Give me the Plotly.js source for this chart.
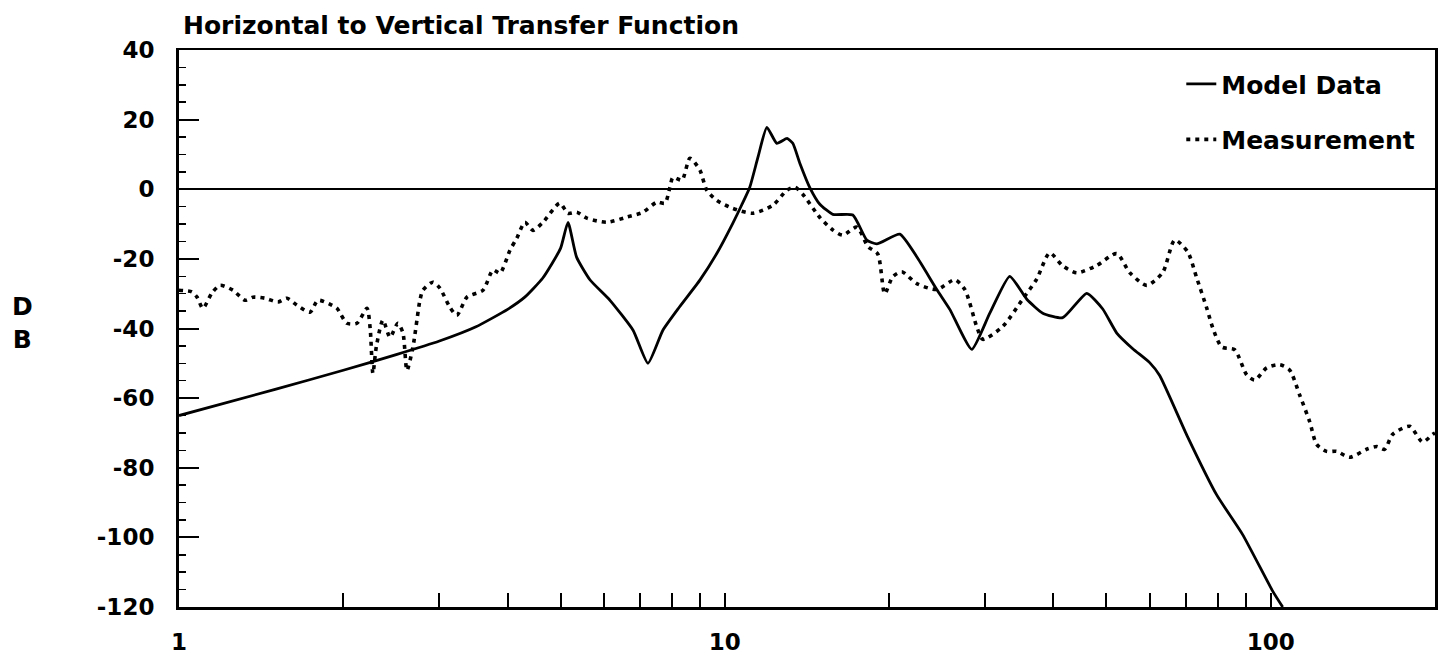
<!DOCTYPE html>
<html>
<head>
<meta charset="utf-8">
<script src="https://cdn.plot.ly/plotly-3.0.1.min.js"></script>
<style>
  html, body { margin: 0; padding: 0; background: #ffffff; }
  #chart { width: 1441px; height: 665px; }
</style>
</head>
<body>
<div id="chart"></div>
<script>
// ---- Data ----
const modelFreq = [1, 1.5, 2, 2.5, 3, 3.5, 4, 4.3, 4.64, 5.0, 5.16, 5.35, 5.66, 6.16, 6.79, 7.23,
  7.7, 8.25, 9.0, 9.67, 10.34, 10.73, 11.11, 11.5, 11.94, 12.45, 13.0, 13.32, 13.72, 14.31,
  14.93, 15.77, 17.16, 18.2, 18.98, 20.92, 22.47, 24.45, 25.83, 28.34, 30.58, 33.26, 35.74,
  38.23, 41.59, 46.03, 49.24, 52.24, 55.89, 60.02, 62.61, 70.19, 79.63, 88.85, 100.9, 105.2];
const modelDb = [-65, -57.5, -52, -47.5, -43.6, -39.5, -34.5, -31, -25.5, -17, -9.5, -19.5, -26, -31.9, -40.5, -50,
  -40.5, -33.9, -26.1, -18.4, -9.8, -4.6, 0.6, 9.2, 17.8, 13.2, 14.6, 13.2, 7.5, 0.5,
  -4.3, -7.2, -7.4, -14.6, -15.7, -12.9, -19.4, -28.8, -34.5, -46, -35.6, -25, -31.6,
  -35.6, -36.9, -29.9, -34.4, -41.3, -45.8, -49.8, -53.5, -70.6, -87.8, -99.2, -115.5, -120];

const measFreq = [1.0, 1.056, 1.079, 1.106, 1.149, 1.189, 1.256, 1.321, 1.366, 1.437, 1.518, 1.577,
  1.645, 1.738, 1.797, 1.906, 1.947, 2.031, 2.118, 2.21, 2.24, 2.266, 2.3, 2.364, 2.435, 2.518,
  2.572, 2.616, 2.683, 2.763, 2.798, 2.919, 3.006, 3.135, 3.229, 3.37, 3.605, 3.761, 3.873,
  4.04, 4.159, 4.302, 4.45, 4.642, 4.986, 5.158, 5.357, 5.588, 6.08, 6.614, 7.077, 7.508,
  7.767, 7.933, 8.034, 8.344, 8.63, 9.0, 9.268, 9.667, 10.34, 11.25, 12.24, 12.99, 13.43,
  13.9, 14.93, 15.77, 16.45, 17.45, 18.3, 19.06, 19.63, 20.31, 21.1, 22.47, 24.45, 26.38,
  27.52, 28.93, 29.68, 32.3, 35.15, 37.27, 39.37, 41.59, 44.13, 48.0, 52.23, 55.2, 59.3,
  63.42, 66.72, 70.47, 73.2, 76.35, 78.31, 81.33, 85.9, 90.37, 93.48, 98.33, 103.9, 108.3,
  113, 117.9, 121.4, 126.6, 132.1, 139.5, 149.9, 156.4, 161.7, 167.3, 179.7, 189.8, 198.1, 200];
const measDb = [-29, -29.5, -31, -34.2, -29.8, -27.6, -29, -31.9, -31, -31.3, -32.4, -31.3,
  -33.3, -35.3, -31.9, -33.3, -34.2, -38.5, -38.5, -34.2, -40, -52.9, -45, -37.6, -42.5, -38.5,
  -41.3, -52, -45.3, -31.9, -29, -26.7, -28.4, -33.9, -36.2, -31, -29, -23.2, -24.1,
  -17.5, -14, -9.5, -11.8, -9.5, -4, -6.9, -6.6, -8.3, -9.5, -8, -6.6, -3.7,
  -4, 0.6, 3.4, 2.6, 8.9, 5.5, -0.3, -3.2, -5.5, -6.9, -4.6, -0.3, 0.6,
  -1.5, -8.1, -11.7, -13.2, -10.9, -16.5, -18.6, -30, -25.1, -23.7, -27.1, -28.8, -26,
  -28.8, -39.4, -43.1, -39.4, -31.5, -25.8, -18.3, -22, -24, -21.9, -18.5, -24, -27.6,
  -23.9, -14.6, -18, -25.5, -34.1, -39.8, -45.3, -46.1, -53.3, -54.8, -51.3, -50.4, -51.9,
  -59.1, -66.8, -73.3, -75.3, -75.3, -77, -74.7, -73.9, -74.7, -70.4, -68.1, -72.6, -70.4, -70];

const xTickVals = [1, 2, 3, 4, 5, 6, 7, 8, 9, 10, 20, 30, 40, 50, 60, 70, 80, 90, 100, 200];
const xTickText = ['1', '', '', '', '', '', '', '', '', '10', '', '', '', '', '', '', '', '', '100', ''];
const yTickVals = [-120, -100, -80, -60, -40, -20, 0, 20, 40];
const yTickText = ['-120', '-100', '-80', '-60', '-40', '-20', '0', '20', '40'];

const titleText = 'Horizontal to Vertical Transfer Function';
const yLabel = 'D<br>B';
const seriesNames = ['Model Data', 'Measurement'];

// ---- Chart ----
const FONT = 'DejaVu Sans, Liberation Sans, Arial, sans-serif';

const traces = [
  {
    x: modelFreq, y: modelDb, name: seriesNames[0], type: 'scatter', mode: 'lines',
    line: { color: '#000000', width: 2.8, shape: 'spline', smoothing: 0.5 }, legendgroup: 'a'
  },
  {
    x: measFreq, y: measDb, name: seriesNames[1], type: 'scatter', mode: 'lines',
    line: { color: '#000000', width: 3.6, dash: '4px,5px', shape: 'spline', smoothing: 0.7 }, legendgroup: 'b'
  }
];

const layout = {
  width: 1441, height: 665,
  margin: { l: 179, r: 6, t: 50, b: 58, pad: 0 },
  paper_bgcolor: '#ffffff', plot_bgcolor: '#ffffff',
  font: { family: FONT, size: 23, color: '#000000', weight: 'bold' },
  title: {
    text: titleText,
    xref: 'container', yref: 'container',
    x: 183 / 1441, xanchor: 'left',
    y: 1 - 25 / 665, yanchor: 'middle',
    font: { family: FONT, size: 25, color: '#000000', weight: 'bold' }
  },
  showlegend: true,
  legend: {
    x: 0.798, xanchor: 'left', y: 0.98, yanchor: 'top',
    bgcolor: 'rgba(0,0,0,0)', borderwidth: 0,
    traceorder: 'grouped', tracegroupgap: 20,
    font: { family: FONT, size: 25, color: '#000000', weight: 'bold' }
  },
  xaxis: {
    type: 'log', range: [0, Math.log10(200)],
    tickmode: 'array', tickvals: xTickVals, ticktext: xTickText,
    ticks: 'inside', ticklen: 14, tickwidth: 2, tickcolor: '#000000',
    showline: true, linecolor: '#000000', linewidth: 2.5, mirror: true,
    showgrid: false, zeroline: false,
    ticklabelstandoff: 13,
    tickfont: { family: FONT, size: 23, color: '#000000', weight: 'bold' }
  },
  yaxis: {
    range: [-120, 40],
    tickmode: 'array', tickvals: yTickVals, ticktext: yTickText,
    ticks: 'inside', ticklen: 20, tickwidth: 2, tickcolor: '#000000',
    minor: { ticks: 'inside', dtick: 5, ticklen: 7, tickwidth: 1.5, tickcolor: '#000000', showgrid: false },
    showline: true, linecolor: '#000000', linewidth: 3, mirror: true,
    showgrid: false,
    zeroline: true, zerolinecolor: '#000000', zerolinewidth: 2,
    ticklabelstandoff: 17,
    tickfont: { family: FONT, size: 23, color: '#000000', weight: 'bold' }
  },
  annotations: [
    {
      text: yLabel, xref: 'paper', yref: 'paper',
      x: (22 - 179) / 1256, y: (607 - 323) / 557,
      xanchor: 'center', yanchor: 'middle', showarrow: false, align: 'center',
      font: { family: FONT, size: 25, color: '#000000', weight: 'bold' }
    }
  ]
};

Plotly.newPlot('chart', traces, layout, { staticPlot: true, displayModeBar: false });
</script>
</body>
</html>
